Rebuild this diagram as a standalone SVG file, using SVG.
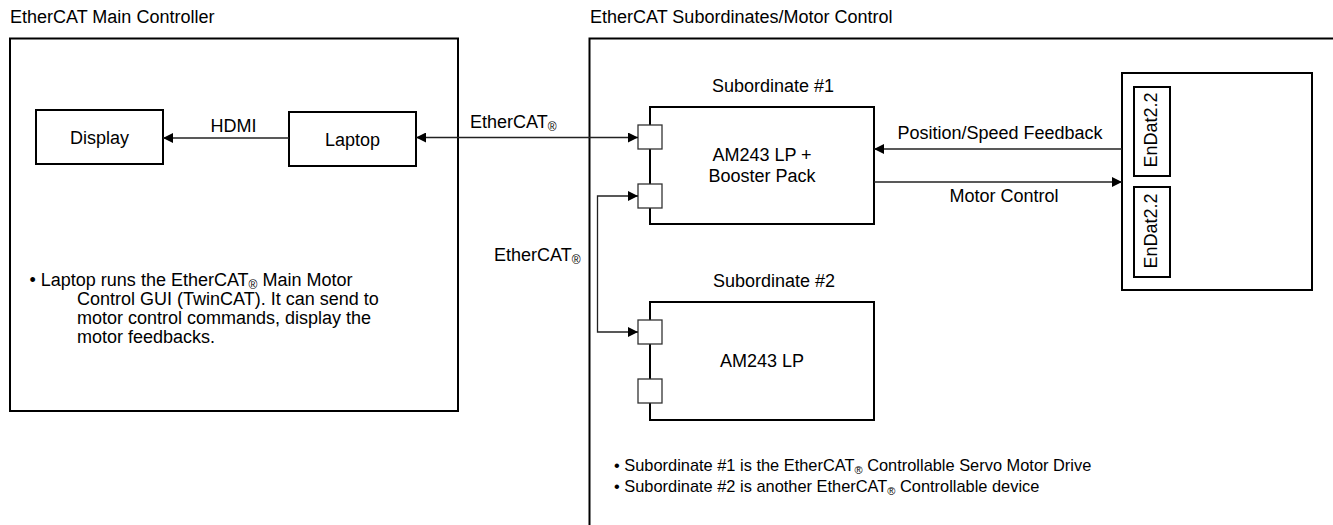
<svg xmlns="http://www.w3.org/2000/svg" width="1333" height="525" viewBox="0 0 1333 525">
<style>
text{font-family:"Liberation Sans",Arial,sans-serif;font-size:18px;fill:#000}
.c{text-anchor:middle}
.sm{font-size:16.4px}
.box{fill:#fff;stroke:#000;stroke-width:2}
.frame{fill:none;stroke:#000;stroke-width:2}
.port{fill:#fff;stroke:#333;stroke-width:1.3}
.wire{fill:none;stroke:#222;stroke-width:1.3}
</style>
<defs>
<marker id="ah" viewBox="0 0 10 10" refX="10" refY="5" markerWidth="10" markerHeight="10" markerUnits="userSpaceOnUse" orient="auto-start-reverse"><path d="M0,0 L10,5 L0,10 z" fill="#000"/></marker>
</defs>
<rect width="1333" height="525" fill="#fff"/>

<g id="main-controller">
<text x="10" y="23">EtherCAT Main Controller</text>
<rect class="frame" x="10" y="38.5" width="448" height="372.5"/>
<text><tspan x="29.5" y="286">• Laptop runs the EtherCAT</tspan><tspan font-size="12" dy="3">®</tspan><tspan dy="-3"> Main Motor</tspan><tspan x="77" y="305">Control GUI (TwinCAT). It can send to</tspan><tspan x="77" y="324">motor control commands, display the</tspan><tspan x="77" y="343">motor feedbacks.</tspan></text>
</g>

<g id="display">
<rect class="box" x="36" y="110" width="127" height="54"/>
<text class="c" x="99.5" y="143.5">Display</text>
</g>

<g id="laptop">
<rect class="box" x="289" y="112" width="127" height="54"/>
<text class="c" x="352.5" y="145.5">Laptop</text>
</g>

<g id="subordinates">
<text x="590" y="23">EtherCAT Subordinates/Motor Control</text>
<rect class="frame" x="589.5" y="38.5" width="800" height="600"/>
<text class="sm"><tspan x="614" y="470.5">• Subordinate #1 is the EtherCAT</tspan><tspan font-size="11" dy="3">®</tspan><tspan dy="-3"> Controllable Servo Motor Drive</tspan><tspan x="614" y="491.5">• Subordinate #2 is another EtherCAT</tspan><tspan font-size="11" dy="3">®</tspan><tspan dy="-3"> Controllable device</tspan></text>
</g>

<g id="subordinate1">
<text class="c" x="773" y="92">Subordinate #1</text>
<rect class="box" x="650" y="107" width="224" height="117"/>
<rect class="port" x="638" y="125" width="24" height="24"/>
<rect class="port" x="638" y="184" width="24" height="24"/>
<text class="c" x="762" y="161">AM243 LP +</text>
<text class="c" x="762" y="182">Booster Pack</text>
</g>

<g id="subordinate2">
<text class="c" x="774" y="287">Subordinate #2</text>
<rect class="box" x="650" y="302" width="224" height="118"/>
<rect class="port" x="638" y="320" width="24" height="24"/>
<rect class="port" x="638" y="379" width="24" height="24"/>
<text class="c" x="762" y="367">AM243 LP</text>
</g>

<g id="encoder">
<rect class="box" x="1122" y="73" width="190" height="217"/>
<rect class="box" x="1134" y="87" width="36" height="89"/>
<rect class="box" x="1134" y="187" width="36" height="90"/>
<text class="c" transform="translate(1156.5,130) rotate(-90)">EnDat2.2</text>
<text class="c" transform="translate(1156.5,231) rotate(-90)">EnDat2.2</text>
</g>

<g id="connectors">
<line class="wire" x1="289" y1="138" x2="163" y2="138" marker-end="url(#ah)"/>
<text class="c" x="233.5" y="131.5">HDMI</text>
<line class="wire" x1="416" y1="137.5" x2="638" y2="137.5" marker-start="url(#ah)" marker-end="url(#ah)"/>
<text x="470" y="127.5">EtherCAT<tspan font-size="12" dy="3">®</tspan></text>
<path class="wire" d="M638,196 H597.5 V332 H638" marker-start="url(#ah)" marker-end="url(#ah)"/>
<text x="494" y="260.5">EtherCAT<tspan font-size="12" dy="3">®</tspan></text>
<line class="wire" x1="1122" y1="149" x2="874" y2="149" marker-end="url(#ah)"/>
<text class="c" x="1000" y="139">Position/Speed Feedback</text>
<line class="wire" x1="874" y1="182" x2="1122" y2="182" marker-end="url(#ah)"/>
<text class="c" x="1004" y="201.5">Motor Control</text>
</g>
</svg>
